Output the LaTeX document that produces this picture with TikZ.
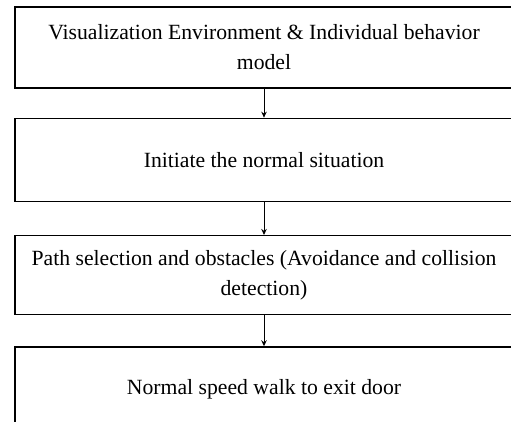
\documentclass[tikz,border=0pt]{standalone}
\usepackage{fontspec}
\setmainfont{Liberation Serif}
\usetikzlibrary{arrows.meta,positioning}

\begin{document}
\begin{tikzpicture}[>={Stealth[length=6pt,width=5.5pt]},font=\fontsize{21.7}{30}\selectfont,
   flowbox/.style={draw,line width=1.3pt,minimum width=498pt,minimum height=81pt,align=center,inner sep=0pt}]
  \useasboundingbox (0,0) rectangle (511pt,-421pt);
  \clip (0,0) rectangle (511pt,-421pt);
  \node[flowbox] (s1) at (264pt,-47.5pt) {Visualization Environment \& Individual behavior\\model};
  \node[flowbox,minimum height=83pt,below=29pt of s1.south,anchor=north] (s2) {Initiate the normal situation};
  \node[flowbox,minimum height=79pt,below=33pt of s2.south,anchor=north] (s3) {Path selection and obstacles (Avoidance and collision\\detection)};
  \node[flowbox,minimum height=84pt,below=31pt of s3.south,anchor=north] (s4) {Normal speed walk to exit door};
  \foreach \a/\b in {s1/s2,s2/s3,s3/s4}{\draw[->,line width=1pt] (\a) -- (\b);}
\end{tikzpicture}
\end{document}
